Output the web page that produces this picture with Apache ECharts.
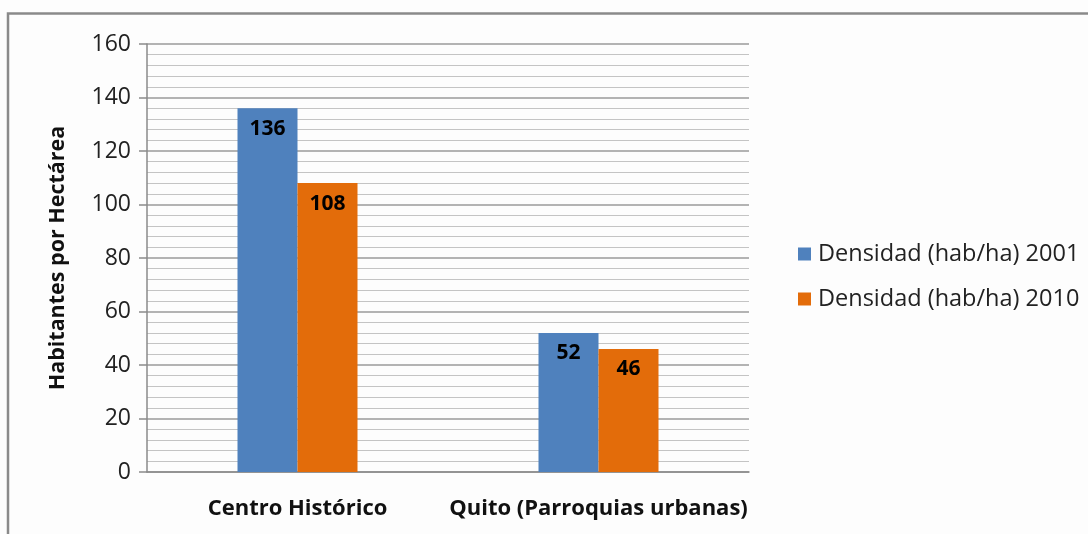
<!DOCTYPE html>
<html>
<head>
<meta charset="utf-8">
<script src="https://cdn.jsdelivr.net/npm/echarts@6/dist/echarts.min.js"></script>
<style>
  html, body { margin: 0; padding: 0; background: #fdfdfd; }
  #chart { width: 1088px; height: 534px; }
</style>
</head>
<body>
<div id="chart"></div>
<script>
// data
var categories = ["Centro Histórico", "Quito (Parroquias urbanas)"];
var density2001 = [136, 52];
var density2010 = [108, 46];
var seriesNames = ["Densidad (hab/ha) 2001", "Densidad (hab/ha) 2010"];

var font = "'Open Sans', sans-serif";

var myChart = echarts.init(document.getElementById("chart"));

var barLabel = {
  show: true,
  position: "insideTop",
  distance: 10,
  color: "#000",
  fontWeight: "bold",
  fontSize: 21,
  fontFamily: font,
};

myChart.setOption({
  backgroundColor: "#fdfdfd",
  animation: false,
  textStyle: { fontFamily: font },
  grid: { left: 147, top: 44, right: 339, bottom: 62 },
  // frame around the chart area
  graphic: [
    {
      type: "rect",
      shape: { x: 8, y: 13.5, width: 1200, height: 600 },
      style: { fill: "none", stroke: "#8a8a8a", lineWidth: 2.5 },
      silent: true,
    },
  ],
  legend: {
    orient: "vertical",
    left: 793,
    top: 237,
    itemWidth: 13,
    itemHeight: 13,
    itemGap: 21,
    icon: "rect",
    textStyle: { fontSize: 23.5, color: "#222", fontFamily: font, padding: [0, 0, 0, 2] },
    data: seriesNames,
  },
  xAxis: {
    type: "category",
    data: categories,
    axisLine: { lineStyle: { color: "#8a8a8a", width: 1.5 } },
    axisTick: { show: false },
    axisLabel: {
      interval: 0,
      margin: 26,
      fontSize: 22,
      fontWeight: "bold",
      color: "#111",
      fontFamily: font,
    },
  },
  yAxis: {
    type: "value",
    min: 0,
    max: 160,
    interval: 20,
    name: "Habitantes por Hectárea",
    nameLocation: "middle",
    nameGap: 78,
    nameTextStyle: { fontSize: 21.5, fontWeight: "bold", color: "#111", fontFamily: font },
    axisLine: { show: true, lineStyle: { color: "#8a8a8a", width: 1.5 } },
    axisTick: { show: true, length: 8, lineStyle: { color: "#8a8a8a", width: 1.5 } },
    axisLabel: { fontSize: 23, color: "#222", margin: 16, fontFamily: font },
    splitLine: { lineStyle: { color: "#9a9a9a", width: 1.5 } },
    minorTick: { show: false, splitNumber: 5 },
    minorSplitLine: { show: true, lineStyle: { color: "#c4c4c4", width: 1.2 } },
  },
  series: [
    {
      name: seriesNames[0],
      type: "bar",
      data: density2001,
      barWidth: 60,
      barGap: "0%",
      itemStyle: { color: "#4f81bd" },
      label: barLabel,
    },
    {
      name: seriesNames[1],
      type: "bar",
      data: density2010,
      barWidth: 60,
      itemStyle: { color: "#e36c0a" },
      label: barLabel,
    },
  ],
});
</script>
</body>
</html>
